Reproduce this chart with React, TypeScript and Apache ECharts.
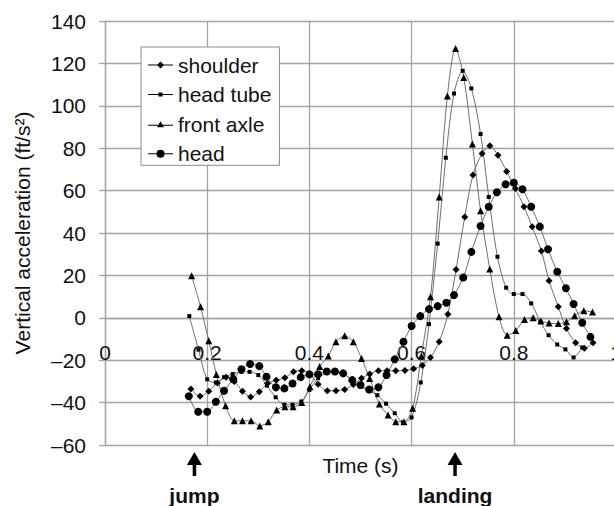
import { useEffect, useRef } from 'react';
import * as echarts from 'echarts';

// ---- data (time in s, vertical acceleration in ft/s^2) ----
const shoulderT = [0.168, 0.186, 0.203, 0.22, 0.237, 0.253, 0.269, 0.285, 0.302, 0.318, 0.335, 0.352, 0.369, 0.385, 0.401, 0.417, 0.435, 0.452, 0.469, 0.486, 0.502, 0.518, 0.535, 0.552, 0.569, 0.587, 0.604, 0.621, 0.637, 0.654, 0.671, 0.687, 0.704, 0.72, 0.738, 0.753, 0.769, 0.786, 0.803, 0.82, 0.836, 0.854, 0.869, 0.887, 0.903, 0.921, 0.938, 0.955];
const shoulderV = [-33.6, -37, -34.6, -30.7, -28, -30, -34.6, -37.3, -34.9, -31, -29.5, -28.3, -25.5, -25, -26.5, -31.3, -34.4, -34.4, -33.8, -31.5, -28.5, -26.5, -25, -25, -25, -24.8, -24, -22.5, -18.7, -11.3, 1.7, 22.8, 47.6, 67.3, 77.5, 81.1, 76.7, 69, 61, 52.4, 43, 31.5, 17.5, 5.2, -5, -11.8, -14.4, -11.8];

const headTubeT = [0.165, 0.183, 0.2, 0.217, 0.233, 0.25, 0.267, 0.283, 0.3, 0.317, 0.334, 0.351, 0.367, 0.384, 0.4, 0.417, 0.434, 0.45, 0.467, 0.484, 0.5, 0.517, 0.533, 0.55, 0.567, 0.583, 0.6, 0.618, 0.634, 0.651, 0.667, 0.683, 0.7, 0.717, 0.735, 0.751, 0.768, 0.785, 0.8, 0.817, 0.834, 0.852, 0.868, 0.885, 0.901, 0.917, 0.934];
const headTubeV = [0.8, -15, -29, -30.5, -28, -26.5, -25.5, -25.5, -27, -32, -37.5, -41, -41, -39.5, -34, -28.5, -26, -25.5, -26.5, -29.5, -32.5, -34.5, -36.5, -40.5, -45, -49.3, -47, -30.5, -3, 35, 75.5, 105.8, 116.5, 108.2, 86.7, 57, 28.8, 14.2, 11.2, 11.2, 6.8, -1.9, -8.2, -12.6, -14.9, -18.7, -14];

const frontAxleT = [0.1695, 0.187, 0.203, 0.218, 0.236, 0.253, 0.269, 0.286, 0.303, 0.3195, 0.336, 0.352, 0.368, 0.385, 0.401, 0.42, 0.437, 0.452, 0.469, 0.486, 0.502, 0.518, 0.537, 0.554, 0.569, 0.585, 0.602, 0.619, 0.637, 0.654, 0.67, 0.686, 0.702, 0.719, 0.735, 0.753, 0.771, 0.787, 0.804, 0.821, 0.838, 0.853, 0.869, 0.887, 0.903, 0.919, 0.937, 0.954];
const frontAxleV = [19.8, 5.2, -10.8, -26.7, -41.5, -48.6, -48.6, -48.6, -51, -49, -43.5, -42, -42, -40, -32.5, -23, -18, -11.3, -8.5, -11.3, -19.2, -28.6, -40.7, -45.9, -49, -49, -42.7, -18, 9.9, 57, 104.6, 127, 113.4, 82, 50.5, 23, 0.5, -8.2, -6, -0.8, 0, -1.5, -2.5, -2.7, -1.9, 1, 3.3, 2.7];

const headT = [0.164, 0.1825, 0.2, 0.217, 0.233, 0.251, 0.267, 0.284, 0.302, 0.316, 0.3345, 0.351, 0.367, 0.383, 0.4, 0.417, 0.434, 0.45, 0.466, 0.484, 0.5, 0.517, 0.535, 0.551, 0.567, 0.584, 0.6, 0.617, 0.634, 0.651, 0.668, 0.683, 0.701, 0.717, 0.735, 0.751, 0.767, 0.784, 0.8, 0.817, 0.834, 0.851, 0.867, 0.885, 0.902, 0.917, 0.934, 0.95];
const headV = [-37, -44.3, -44.3, -39.6, -34.4, -29, -24.3, -21.8, -22.8, -27.8, -32.8, -33.3, -31, -28, -26.7, -26.6, -25.3, -25.3, -26.2, -29.4, -31.7, -33.8, -32.8, -27, -19.6, -11.3, -3.9, 0.8, 4.1, 5.5, 7.1, 10.7, 19, 31.1, 43.3, 52.4, 59.2, 63, 63.7, 60.6, 52.4, 43, 32.3, 21.7, 13.9, 6.5, -2.3, -9];

const seriesNames = ['shoulder', 'head tube', 'front axle', 'head'];
const annotationT = [0.175, 0.685];
const annotationText = ['jump', 'landing'];

const FONT = 'Liberation Sans, Arial, sans-serif';

const pairs = (t: number[], v: number[]) => t.map((x, i) => [x, v[i]]);

const legendIcons = [
  'path://M0,3 L25,3 L25,4 L0,4 Z M12.5,0 L16,3.5 L12.5,7 L9,3.5 Z',
  'path://M0,1.5 L25,1.5 L25,2.5 L0,2.5 Z M10.5,0 L14.5,0 L14.5,4 L10.5,4 Z',
  'path://M0,3.5 L25,3.5 L25,4.5 L0,4.5 Z M12.5,0 L16,6 L9,6 Z',
  'path://M0,3.5 L25,3.5 L25,4.5 L0,4.5 Z M12.5,0 A4,4 0 1 1 12.5,8 A4,4 0 1 1 12.5,0 Z',
];

export default function App() {
  const ref = useRef<HTMLDivElement>(null);

  useEffect(() => {
    if (!ref.current) return;
    const chart = echarts.init(ref.current, null, { renderer: 'svg' });
    const gridColor = '#a3a3a3';
    const lineColor = '#6e6e6e';
    const gridTop = 21;
    const gridHeight = 424;
    const yMin = -60;
    const yMax = 140;
    // shift the x axis from the bottom edge up to the y = 0 line
    const xAxisOffset = -(gridHeight * (0 - yMin)) / (yMax - yMin);
    const mk = (name: string, data: number[][], symbol: string, size: number) => ({
      name,
      type: 'line',
      data,
      smooth: 0.3,
      symbol,
      symbolSize: size,
      showSymbol: true,
      lineStyle: { color: lineColor, width: 1 },
      itemStyle: { color: '#000', borderWidth: 0 },
      emphasis: { disabled: true },
    });
    chart.setOption({
      animation: false,
      backgroundColor: '#fff',
      textStyle: { fontFamily: FONT, fontSize: 21 },
      grid: { left: 105, top: gridTop, width: 511, height: gridHeight, containLabel: false, outerBoundsMode: 'none' },
      legend: {
        orient: 'vertical',
        left: 141,
        top: 47,
        padding: [7.5, 8, 1, 7],
        itemGap: 8.6,
        itemWidth: 25,
        itemHeight: 10,
        backgroundColor: '#fff',
        borderColor: '#8c8c8c',
        borderWidth: 1,
        selectedMode: false,
        textStyle: { fontSize: 21, color: '#111', fontFamily: FONT, lineHeight: 21 },
        data: seriesNames.map((n, i) => ({ name: n, icon: legendIcons[i] })),
      },
      xAxis: {
        type: 'value',
        min: 0,
        max: 1,
        interval: 0.2,
        offset: xAxisOffset,
        name: 'Time (s)',
        nameLocation: 'middle',
        nameGap: 137,
        nameTextStyle: { fontSize: 21, color: '#111', fontFamily: FONT, lineHeight: 21 },
        axisLine: { show: true, onZero: true, lineStyle: { color: gridColor, width: 1.3 } },
        axisTick: { show: false },
        axisLabel: { margin: 24, fontSize: 21, color: '#111', fontFamily: FONT, lineHeight: 21 },
        splitLine: { show: true, lineStyle: { color: gridColor, width: 1.3 } },
      },
      yAxis: {
        type: 'value',
        min: yMin,
        max: yMax,
        interval: 20,
        name: 'Vertical acceleration (ft/s²)',
        nameLocation: 'middle',
        nameRotate: 90,
        nameGap: 72,
        nameTextStyle: { fontSize: 21, color: '#111', fontFamily: FONT, lineHeight: 21 },
        axisLine: { show: true, onZero: false, lineStyle: { color: gridColor, width: 1.3 } },
        axisTick: { show: true, length: 6, lineStyle: { color: gridColor, width: 1.3 } },
        axisLabel: {
          margin: 19,
          fontSize: 21,
          color: '#111',
          fontFamily: FONT,
          formatter: (v: number) => (v < 0 ? '\u2013' + Math.abs(v) : String(v)),
        },
        splitLine: { show: true, lineStyle: { color: gridColor, width: 1.3 } },
      },
      series: [
        mk('shoulder', pairs(shoulderT, shoulderV), 'diamond', 7),
        mk('head tube', pairs(headTubeT, headTubeV), 'rect', 4),
        mk('front axle', pairs(frontAxleT, frontAxleV), 'triangle', 7),
        mk('head', pairs(headT, headV), 'circle', 8),
      ],
    });

    const graphics: any[] = [];
    annotationT.forEach((t, i) => {
      const x = chart.convertToPixel({ xAxisIndex: 0 }, t) as number;
      graphics.push(
        { type: 'polygon', shape: { points: [[x, 452], [x + 7.5, 465], [x - 7.5, 465]] }, style: { fill: '#000' } },
        { type: 'rect', shape: { x: x - 1.75, y: 464, width: 3.5, height: 12 }, style: { fill: '#000' } },
        {
          type: 'text',
          x,
          y: 495,
          style: {
            text: annotationText[i],
            fontSize: 21,
            fontWeight: 'bold',
            fontFamily: FONT,
            fill: '#111',
            align: 'center',
            verticalAlign: 'middle',
          },
        },
      );
    });
    chart.setOption({ graphic: graphics });

    return () => chart.dispose();
  }, []);

  return (
    <div
      ref={ref}
      style={{ position: 'absolute', left: 0, top: 0, width: 614, height: 506, background: '#fff' }}
    />
  );
}
